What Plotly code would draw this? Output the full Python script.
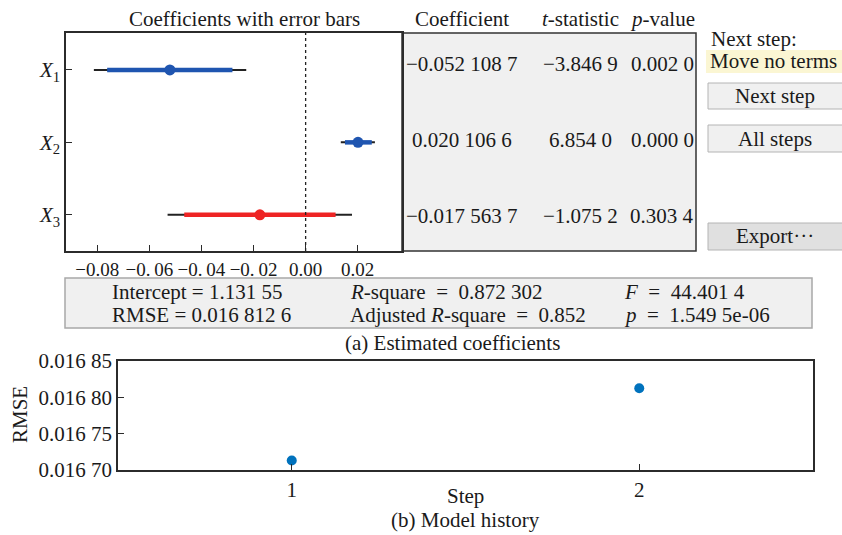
import plotly.graph_objects as go

W, H = 842, 535
FONT = "Liberation Serif"
INK = "#1a1a1a"
FS = 21

# ---- regression terms -------------------------------------------------
term_labels = ["<i>X</i><sub>1</sub>", "<i>X</i><sub>2</sub>", "<i>X</i><sub>3</sub>"]
term_rows = [1, 2, 3]
coefficients = [-0.0521087, 0.0201066, -0.0175637]
ci90_low = [-0.0762, 0.0151, -0.0466]
ci90_high = [-0.0281, 0.0254, 0.0115]
ci95_low = [-0.0813, 0.0135, -0.0530]
ci95_high = [-0.0228, 0.0266, 0.0178]
in_model = [True, True, False]

coef_text = ["\u22120.052 108 7", "0.020 106 6", "\u22120.017 563 7"]
tstat_text = ["\u22123.846 9", "6.854 0", "\u22121.075 2"]
pval_text = ["0.002 0", "0.000 0", "0.303 4"]
table_headers = ["Coefficient", "<i>t</i>-statistic", "<i>p</i>-value"]

coef_ticks = [-0.08, -0.06, -0.04, -0.02, 0.0, 0.02]
coef_ticktext = ["\u22120.08", "\u22120.\u200906", "\u22120.\u200904", "\u22120.\u200902",
                 "0.00", "0.02"]

# ---- model summary ----------------------------------------------------
summary_left = ["Intercept = 1.131 55", "RMSE = 0.016 812 6"]
summary_mid = ["<i>R</i>-square  =  0.872 302", "Adjusted <i>R</i>-square  =  0.852"]
summary_right = ["<i>F</i>  =  44.401 4", "<i>p</i>  =  1.549 5e-06"]

# ---- model history ----------------------------------------------------
steps = [1, 2]
rmse_history = [0.016713, 0.0168126]
rmse_ticks = [0.0167, 0.01675, 0.0168, 0.01685]
rmse_ticktext = ["0.016 70", "0.016 75", "0.016 80", "0.016 85"]

# ---- controls ---------------------------------------------------------
next_step_label = "Next step:"
next_step_action = "Move no terms"
buttons = ["Next step", "All steps", "Export\u00b7\u00b7\u00b7"]

BLUE = "#1f55b0"
RED = "#ee2424"
DOT_BLUE = "#0072bd"


def px(x):
    return x / W


def py(y):
    return 1 - y / H


fig = go.Figure()

# coefficient intervals: thin 95 % line, thick 90 % line, estimate marker
for i in range(len(coefficients)):
    col = BLUE if in_model[i] else RED
    r = term_rows[i]
    fig.add_trace(go.Scatter(x=[ci95_low[i], ci95_high[i]], y=[r, r], mode="lines",
                             line=dict(color="#222222", width=2), xaxis="x", yaxis="y",
                             hoverinfo="skip", showlegend=False))
    fig.add_trace(go.Scatter(x=[ci90_low[i], ci90_high[i]], y=[r, r], mode="lines",
                             line=dict(color=col, width=4.5), xaxis="x", yaxis="y",
                             hoverinfo="skip", showlegend=False))
    fig.add_trace(go.Scatter(x=[coefficients[i]], y=[r], mode="markers",
                             marker=dict(color=col, size=11), xaxis="x", yaxis="y",
                             showlegend=False))

# RMSE per step
fig.add_trace(go.Scatter(x=steps, y=rmse_history, mode="markers",
                         marker=dict(color=DOT_BLUE, size=10), xaxis="x2", yaxis="y2",
                         showlegend=False))

axis_common = dict(showline=True, linecolor="#2b2b2b", linewidth=1.5, mirror=True,
                   ticks="inside", ticklen=6, tickcolor="#2b2b2b", tickwidth=1.3,
                   showgrid=False, zeroline=False, automargin=False, tickangle=0,
                   tickfont=dict(family=FONT, size=FS, color=INK))
coef_x_axis = dict(axis_common, tickfont=dict(family=FONT, size=19, color=INK))

fig.update_layout(
    width=W, height=H, autosize=False,
    margin=dict(l=0, r=0, t=0, b=0),
    paper_bgcolor="white", plot_bgcolor="rgba(0,0,0,0)",
    xaxis=dict(domain=[px(66), px(402)], range=[-0.092, 0.037],
               tickvals=coef_ticks, ticktext=coef_ticktext, anchor="y", **coef_x_axis),
    yaxis=dict(domain=[py(251), py(33)], range=[3.5, 0.49],
               tickvals=term_rows, ticktext=term_labels, anchor="x", **axis_common),
    xaxis2=dict(domain=[px(118), px(813)], range=[0.5, 2.5],
                tickvals=steps, ticktext=[str(s) for s in steps], anchor="y2", **axis_common),
    yaxis2=dict(domain=[py(470), py(361)], range=[0.0167, 0.01685],
                tickvals=rmse_ticks, ticktext=rmse_ticktext, anchor="x2", **axis_common),
    # invisible axis giving the table its row positions
    yaxis3=dict(range=[3.46, 0.592], visible=False, overlaying="y", anchor="x",
                showgrid=False, zeroline=False),
    showlegend=False,
)

shapes = []
# zero reference line
shapes.append(dict(type="line", xref="x", yref="y domain", x0=0, x1=0, y0=0, y1=1,
                   line=dict(color="#222222", width=1.3, dash="dot")))
# coefficient table panel
shapes.append(dict(type="rect", xref="paper", yref="paper", x0=px(402), x1=px(696),
                   y0=py(251), y1=py(33), fillcolor="#f0f0f0",
                   line=dict(color="#333333", width=1.5), layer="below"))
# summary panel
shapes.append(dict(type="rect", xref="paper", yref="paper", x0=px(65), x1=px(812),
                   y0=py(328), y1=py(278), fillcolor="#f0f0f0",
                   line=dict(color="#a8a8a8", width=1.5), layer="below"))
# "Move no terms" highlight
shapes.append(dict(type="rect", xref="paper", yref="paper", x0=px(706), x1=px(842),
                   y0=py(73), y1=py(50), fillcolor="#fbf6d3",
                   line=dict(width=0), layer="below"))
# buttons
button_rows = [(83, 109), (125, 152), (223, 250)]
button_fills = ["#f0f0f0", "#f0f0f0", "#e0e0e0"]
for (top, bot), fillc in zip(button_rows, button_fills):
    shapes.append(dict(type="rect", xref="paper", yref="paper", x0=px(708), x1=px(850),
                       y0=py(bot), y1=py(top), fillcolor=fillc,
                       line=dict(color="#b4b4b4", width=1), layer="below"))
fig.update_layout(shapes=shapes)

ann = []


def text(x, y, s, xanchor="center", yanchor="middle", size=FS, xref="paper", yref="paper",
         angle=0):
    ann.append(dict(x=x, y=y, xref=xref, yref=yref, text=s, showarrow=False,
                    xanchor=xanchor, yanchor=yanchor, textangle=angle,
                    font=dict(family=FONT, size=size, color=INK)))


# titles
text(px(244), py(19), "Coefficients with error bars")
table_cols = [462, 580, 662]
for cx, h in zip(table_cols, table_headers):
    text(px(cx), py(19), h)

# table values, rows aligned by the table axis
for i in range(len(coefficients)):
    for cx, col in zip(table_cols, (coef_text, tstat_text, pval_text)):
        text(px(cx), term_rows[i], col[i], yref="y3")

# controls
text(px(709), py(39), next_step_label, xanchor="left")
text(px(708), py(61), next_step_action, xanchor="left")
for (top, bot), b in zip(button_rows, buttons):
    text(px(775), py((top + bot) / 2), b)

# summary
for j in range(2):
    yy = py(292 + j * 23)
    text(px(110), yy, summary_left[j], xanchor="left")
    text(px(348), yy, summary_mid[j], xanchor="left")
    text(px(622), yy, summary_right[j], xanchor="left")

text(px(452), py(343), "(a) Estimated coefficients")
text(px(20), py(415), "RMSE", angle=-90)
text(px(466), py(496), "Step")
text(px(466), py(520), "(b) Model history")

fig.update_layout(annotations=ann)

fig.write_html("out.html")
